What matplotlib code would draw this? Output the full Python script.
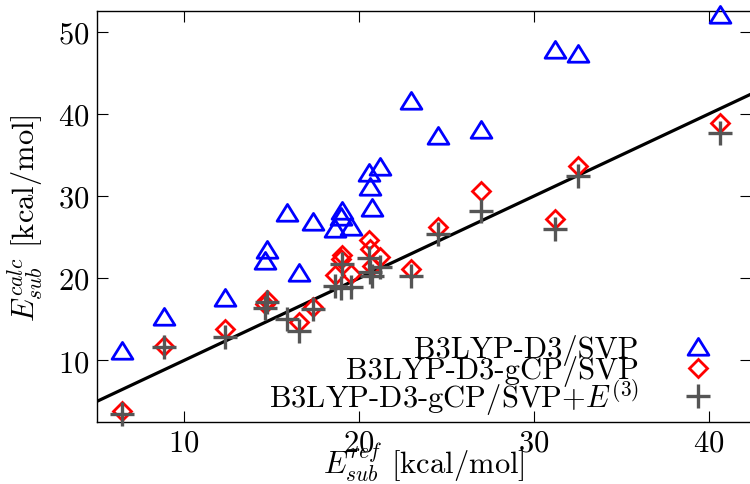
import numpy as np
import matplotlib
matplotlib.use("Agg")
import matplotlib.pyplot as plt
from matplotlib.path import Path

plt.rcParams['font.family'] = 'serif'
plt.rcParams['font.serif'] = ['cmr10']
plt.rcParams['mathtext.fontset'] = 'cm'
plt.rcParams['axes.formatter.use_mathtext'] = True

# reference substitution energies (x)
e_ref = [6.44, 8.86, 12.33, 14.63, 14.72, 15.90, 16.57, 17.38, 18.62, 18.95, 19.02,
         19.55, 20.58, 20.65, 20.75, 21.18, 23.00, 24.50, 26.95, 31.20, 32.50, 40.67]
# B3LYP-D3/SVP
d3_svp = [11.1, 15.3, 17.6, 22.1, 23.5, 28.0, 20.6, 26.8, 26.0, 27.4, 28.2,
          26.2, 32.8, 31.1, 28.5, 33.5, 41.6, 37.3, 38.1, 47.8, 47.3, 52.0]
# B3LYP-D3-gCP/SVP
gcp_svp = [3.9, 11.8, 13.8, 16.9, 17.3, np.nan, 14.7, 16.5, 20.4, 22.4, 22.8,
           20.5, 24.6, 23.6, 21.5, 22.6, 21.1, 26.2, 30.6, 27.2, 33.7, 38.9]
# B3LYP-D3-gCP/SVP + E(3)
gcp_e3 = [3.5, 11.6, 12.8, 16.4, 17.1, 15.1, 13.6, 16.3, 19.1, 18.8, 21.7,
          18.9, 22.5, 20.8, 20.3, 21.4, 20.3, 25.4, 28.2, 26.0, 32.5, 37.7]

labels = ["B3LYP-D3/SVP", "B3LYP-D3-gCP/SVP", "B3LYP-D3-gCP/SVP+$E^{(3)}$"]
x_ticks = [10, 20, 30, 40]
y_ticks = [10, 20, 30, 40, 50]

FS = 22

fig = plt.figure(figsize=(7.5, 4.85), dpi=100)
ax = fig.add_axes([96.7 / 750, 62 / 485, 654 / 750, 410.7 / 485])

tri = Path([(-1.15, -0.85), (1.15, -0.85), (0.0, 1.0), (-1.15, -0.85)],
           [Path.MOVETO, Path.LINETO, Path.LINETO, Path.CLOSEPOLY])

ax.axline((0, 0), slope=1, color='black', lw=2.3, zorder=1)

h1, = ax.plot(e_ref, d3_svp, ls='none', marker=tri, ms=15, mfc='none', mec='#0000ff',
              mew=2.0, clip_on=False, zorder=3, label=labels[0])
h2, = ax.plot(e_ref, gcp_svp, ls='none', marker='D', ms=9.5, mfc='none', mec='#ff0000',
              mew=2.0, clip_on=False, zorder=4, label=labels[1])
h3, = ax.plot(e_ref, gcp_e3, ls='none', marker='+', ms=17, mec='#555555',
              mew=2.4, clip_on=False, zorder=5, label=labels[2])

ax.set_xlim(5, 42.4)
ax.set_ylim(2.5, 52.5)
ax.set_xticks(x_ticks)
ax.set_yticks(y_ticks)
ax.tick_params(direction='in', length=8, width=0.8, top=True, right=True,
               labelsize=FS, pad=5)
for s in ax.spines.values():
    s.set_linewidth(1.0)

ax.set_xlabel(r"$E_{sub}^{ref}$ [kcal/mol]", fontsize=FS, labelpad=-12)
ax.set_ylabel(r"$E_{sub}^{calc}$ [kcal/mol]", fontsize=FS, labelpad=9)

leg = ax.legend(handles=[h1, h2, h3], loc='lower right', frameon=False,
                markerfirst=False, fontsize=FS, handlelength=1.0,
                handletextpad=1.45, labelspacing=-0.33,
                bbox_to_anchor=(0.962, -0.018), borderaxespad=0)
for col in leg._legend_handle_box.get_children():
    col.align = 'right'

fig.savefig("out.png", dpi=100)
